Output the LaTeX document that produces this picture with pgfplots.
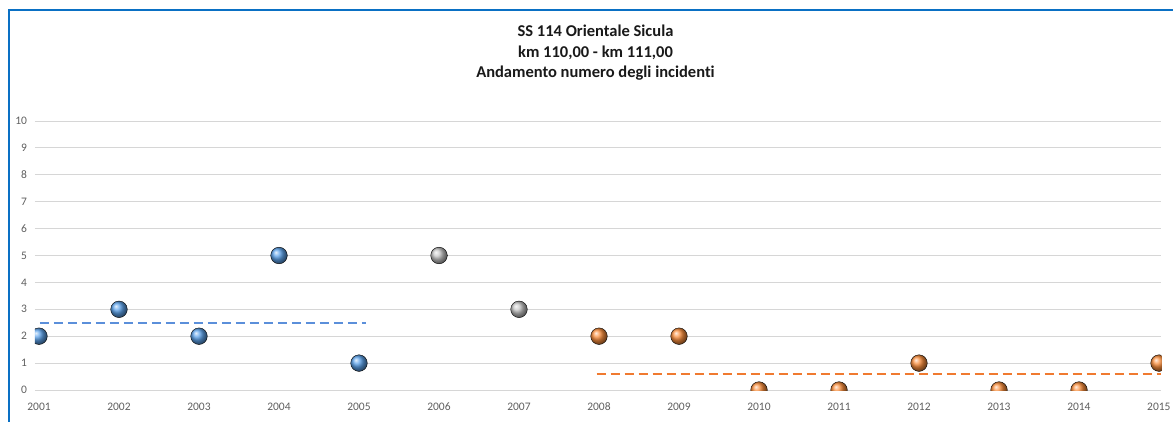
\documentclass[border=0pt]{standalone}
\usepackage{pgfplots}
\pgfplotsset{compat=1.18}
\usepackage{fontspec}
\setmainfont{Carlito}[Ligatures={NoCommon}]

\definecolor{frameblue}{HTML}{0A70C4}
\definecolor{ballblue}{HTML}{5CA2EA}
\definecolor{ballgrey}{HTML}{C6C6C6}
\definecolor{ballorange}{HTML}{FA8E3C}
\definecolor{avgblue}{HTML}{5B8FDA}
\definecolor{avgorange}{HTML}{F07A30}
\definecolor{ticktext}{HTML}{5F5F5F}

\begin{document}
\begin{tikzpicture}
\useasboundingbox (0,0) rectangle (1173pt,421pt);
% chart frame
\draw[frameblue, line width=2.6pt] (9pt,-5pt) -- (9pt,411pt) -- (1185pt,411pt);

\begin{axis}[
  at={(35pt,31pt)}, anchor=south west,
  scale only axis, width=1126.4pt, height=269pt,
  xmin=2000.95, xmax=2015.03, ymin=0, ymax=10,
  xtick={2001,...,2015}, ytick={0,...,10},
  axis line style={draw=none}, major tick length=0pt,
  ymajorgrids, grid style={color=black!16, line width=0.8pt},
  clip marker paths=true,
  /pgf/number format/assume math mode=true,
  /pgf/number format/1000 sep={},
  tick label style={font=\fontsize{11.5}{12}\selectfont, text=ticktext},
  xticklabel style={anchor=base, yshift=-20pt},
  yticklabel style={xshift=-4.5pt},
  title={SS 114 Orientale Sicula\\km 110,00 - km 111,00\\Andamento numero degli incidenti},
  title style={at={(axis description cs:0.4976,1)}, anchor=north, yshift=90pt,
    align=center, inner sep=0pt, text=black!90,
    font=\bfseries\fontsize{16.5}{20.5}\selectfont},
]
% averages
\addplot[avgblue, line width=2pt, dash pattern=on 9pt off 5pt]
  coordinates {(2001.01,2.5) (2005.09,2.5)};
\addplot[avgorange, line width=2pt, dash pattern=on 9pt off 5pt]
  coordinates {(2007.97,0.6) (2015.03,0.6)};
% yearly counts
\addplot[only marks, mark=ball, mark size=8.3pt, ball color=ballblue,
  mark options={ball color=ballblue}]
  coordinates {(2001,2) (2002,3) (2003,2) (2004,5) (2005,1)};
\addplot[only marks, mark=ball, mark size=8.3pt, ball color=ballgrey,
  mark options={ball color=ballgrey}]
  coordinates {(2006,5) (2007,3)};
\addplot[only marks, mark=ball, mark size=8.3pt, ball color=ballorange,
  mark options={ball color=ballorange}]
  coordinates {(2008,2) (2009,2) (2010,0) (2011,0) (2012,1) (2013,0) (2014,0) (2015,1)};
\end{axis}
\end{tikzpicture}
\end{document}
